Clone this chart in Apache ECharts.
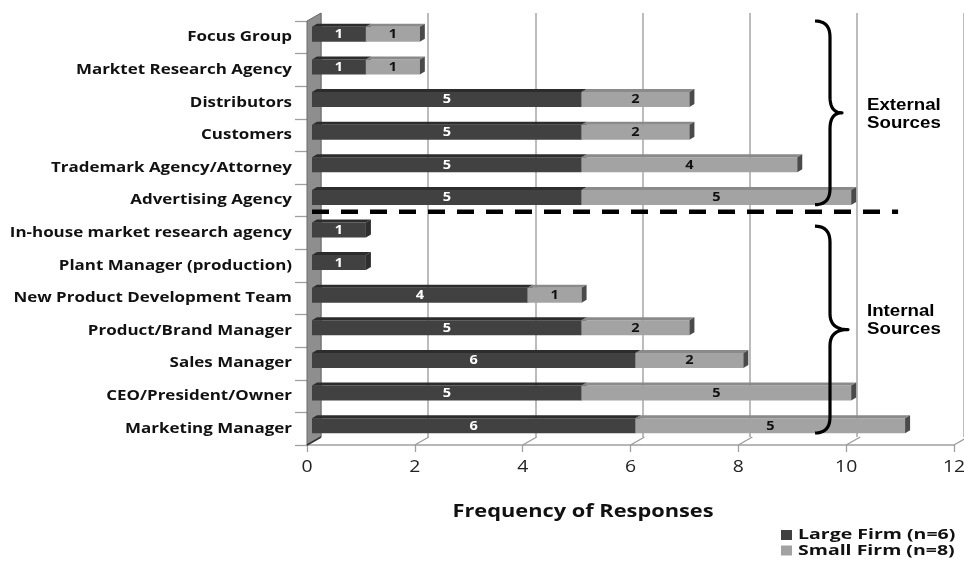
<!DOCTYPE html>
<html>
<head>
<meta charset="utf-8">
<script src="https://cdn.jsdelivr.net/npm/echarts@6/dist/echarts.min.js"></script>
<style>
  html, body { margin: 0; padding: 0; background: #fff; }
  #chart { width: 964px; height: 563px; }
</style>
</head>
<body>
<div id="chart"></div>
<script>
// Sources of information, counted per firm size
const categories = [
  'Focus Group',
  'Marktet Research Agency',
  'Distributors',
  'Customers',
  'Trademark Agency/Attorney',
  'Advertising Agency',
  'In-house market research agency',
  'Plant Manager (production)',
  'New Product Development Team',
  'Product/Brand Manager',
  'Sales Manager',
  'CEO/President/Owner',
  'Marketing Manager'
];
const largeFirm = [1, 1, 5, 5, 5, 5, 1, 1, 4, 5, 6, 5, 6];
const smallFirm = [1, 1, 2, 2, 4, 5, 0, 0, 1, 2, 2, 5, 5];
const xTicks = [0, 2, 4, 6, 8, 10, 12];
const seriesNames = ['Large Firm (n=6)', 'Small Firm (n=8)'];
const seriesColors = ['#404040', '#a2a2a2'];
const axisTitle = 'Frequency of Responses';
const groupLabels = [['External', 'Sources'], ['Internal', 'Sources']];
// category index ranges covered by each brace
const groupRanges = [[0, 5], [6, 12]];

// pseudo-3D geometry (pixels)
const DEPTH_X = 14, DEPTH_Y = 8;      // front plane to back wall
const BAR_DX = 5, BAR_DY = -3;        // bar front plane inside the box
const BAR_H = 15, TOP_DX = 5, TOP_DY = 3;
const WIDE = 1.21;                    // horizontal stretch of the lettering

const FONT = '"Open Sans", "DejaVu Sans", sans-serif';

const chart = echarts.init(document.getElementById('chart'), null, { renderer: 'canvas' });

function bar3d(colors, textColor) {
  return function (params, api) {
    const cat = api.value(0);
    const start = api.value(1);
    const end = api.value(2);
    if (end - start <= 0) return null;
    const p0 = api.coord([start, cat]);
    const p1 = api.coord([end, cat]);
    const x0 = p0[0] + BAR_DX, x1 = p1[0] + BAR_DX;
    const yc = p0[1] + BAR_DY;
    const yt = yc - BAR_H / 2, yb = yc + BAR_H / 2;
    return {
      type: 'group',
      children: [
        { type: 'rect', shape: { x: x0, y: yt, width: x1 - x0, height: BAR_H },
          style: { fill: colors.front } },
        { type: 'polygon', shape: { points: [[x0, yt], [x1, yt], [x1 + TOP_DX, yt - TOP_DY], [x0 + TOP_DX, yt - TOP_DY]] },
          style: { fill: colors.top } },
        { type: 'polygon', shape: { points: [[x1, yt], [x1 + TOP_DX, yt - TOP_DY], [x1 + TOP_DX, yb - TOP_DY], [x1, yb]] },
          style: { fill: colors.side } },
        { type: 'text', x: (x0 + x1) / 2, y: yc + 0.5, scaleX: WIDE,
          style: { text: String(end - start), x: 0, y: 0,
            align: 'center', verticalAlign: 'middle', fill: textColor,
            font: 'bold 12px ' + FONT } }
      ]
    };
  };
}

// floor ticks running back to the wall, tick labels, plus the left side wall
function frame(params, api) {
  const v = api.value(0);
  const cs = params.coordSys;
  const bottom = cs.y + cs.height;
  const x = api.coord([v, 0])[0];
  const children = [
    { type: 'line', shape: { x1: x, y1: bottom, x2: x + DEPTH_X, y2: bottom - DEPTH_Y },
      style: { stroke: '#9a9a9a', lineWidth: 1.3 } },
    { type: 'text', x: x, y: bottom + 22, scaleX: WIDE,
      style: { text: String(v), x: 0, y: 0, align: 'center', verticalAlign: 'middle',
        font: '16px ' + FONT, fill: '#222' } }
  ];
  if (params.dataIndex === 0) {
    children.unshift({
      type: 'polygon',
      shape: { points: [[cs.x, cs.y], [cs.x + DEPTH_X, cs.y - DEPTH_Y],
                        [cs.x + DEPTH_X, bottom - DEPTH_Y], [cs.x, bottom]] },
      style: { fill: '#8e8e8e', stroke: '#6a6a6a', lineWidth: 1 }
    });
    children.push({ type: 'line', shape: { x1: cs.x, y1: bottom, x2: cs.x + DEPTH_X, y2: bottom - DEPTH_Y },
      style: { stroke: '#333', lineWidth: 1.5 } });
  }
  return { type: 'group', children };
}

// category names left of the wall
function catLabel(params, api) {
  const i = api.value(0);
  const p = api.coord([0, i]);
  return {
    type: 'text', x: p[0] - 15, y: p[1], scaleX: WIDE,
    style: { text: categories[i], x: 0, y: 0, align: 'right', verticalAlign: 'middle',
      font: 'bold 14px ' + FONT, fill: '#111' }
  };
}

const gridFront = { left: 307, width: 647, top: 21, height: 424 };
const gridBack = { left: 307 + DEPTH_X, width: 647, top: 21 - DEPTH_Y, height: 424 };

const option = {
  backgroundColor: '#ffffff',
  animation: false,
  grid: [gridFront, gridBack],
  xAxis: [
    {
      gridIndex: 0, type: 'value', min: 0, max: 12, interval: 2,
      axisLine: { show: true, lineStyle: { color: '#a0a0a0', width: 1.5 } },
      axisTick: { show: true, length: 7, lineStyle: { color: '#a0a0a0', width: 1.3 } },
      axisLabel: { show: false },
      splitLine: { show: false }
    },
    {
      gridIndex: 1, type: 'value', min: 0, max: 12, interval: 2,
      axisLine: { show: false }, axisTick: { show: false }, axisLabel: { show: false },
      splitLine: { show: true, lineStyle: { color: '#a6a6a6', width: 1.5 } }
    }
  ],
  yAxis: [
    {
      gridIndex: 0, type: 'category', data: categories, inverse: true,
      axisLine: { show: false },
      axisTick: { show: true, length: 12, lineStyle: { color: '#a0a0a0', width: 1.3 } },
      axisLabel: { show: false },
      splitLine: { show: false }
    },
    {
      gridIndex: 1, type: 'category', data: categories, inverse: true, show: false
    }
  ],
  series: [
    {
      type: 'custom', name: 'frame', xAxisIndex: 0, yAxisIndex: 0, z: 2,
      renderItem: frame,
      data: xTicks.map(v => [v]),
      encode: { x: 0 },
      silent: true
    },
    {
      type: 'custom', name: 'categories', xAxisIndex: 0, yAxisIndex: 0, z: 2,
      renderItem: catLabel,
      data: categories.map((c, i) => [i]),
      encode: { y: 0 },
      silent: true
    },
    {
      type: 'custom', name: seriesNames[0], xAxisIndex: 0, yAxisIndex: 0, z: 3,
      itemStyle: { color: seriesColors[0] },
      renderItem: bar3d({ front: '#414141', top: '#2c2c2c', side: '#2e2e2e' }, '#ffffff'),
      data: categories.map((c, i) => [i, 0, largeFirm[i]]),
      encode: { y: 0, x: [1, 2] }
    },
    {
      type: 'custom', name: seriesNames[1], xAxisIndex: 0, yAxisIndex: 0, z: 4,
      itemStyle: { color: seriesColors[1] },
      renderItem: bar3d({ front: '#a3a3a3', top: '#8a8a8a', side: '#4a4a4a' }, '#111111'),
      data: categories.map((c, i) => [i, largeFirm[i], largeFirm[i] + smallFirm[i]]),
      encode: { y: 0, x: [1, 2] }
    }
  ]
};

chart.setOption(option);

// Annotations: dashed separator, curly braces, axis title and key
function px(v, cat) {
  return chart.convertToPixel({ xAxisIndex: 0, yAxisIndex: 0 }, [v, cat]);
}
const band = px(0, 1)[1] - px(0, 0)[1];
const sepY = (px(0, 5)[1] + px(0, 6)[1]) / 2 - 5;
const graphics = [
  {
    type: 'line', z: 10,
    shape: { x1: px(0, 0)[0] + BAR_DX, y1: sepY, x2: px(11, 0)[0] - 2, y2: sepY },
    style: { stroke: '#000', lineWidth: 4.5, lineDash: [17, 12] }
  }
];

function quad(pts, a, c, b) {
  for (let k = 1; k <= 10; k++) {
    const t = k / 10, u = 1 - t;
    pts.push([u * u * a[0] + 2 * u * t * c[0] + t * t * b[0],
              u * u * a[1] + 2 * u * t * c[1] + t * t * b[1]]);
  }
}
function bracePoints(x0, y0, y1, bodyDx, tipDx) {
  const xb = x0 + bodyDx, xt = x0 + tipDx, ym = (y0 + y1) / 2, r = 16;
  const pts = [[x0, y0]];
  quad(pts, [x0, y0], [xb, y0], [xb, y0 + r]);
  pts.push([xb, ym - r]);
  quad(pts, [xb, ym - r], [xb, ym], [xt, ym]);
  quad(pts, [xt, ym], [xb, ym], [xb, ym + r]);
  pts.push([xb, y1 - r]);
  quad(pts, [xb, y1 - r], [xb, y1], [x0, y1]);
  return pts;
}

const braceTrim = [[0, -12], [9.5, -12]];
const braceText = [1.5, -9];
groupRanges.forEach((rg, k) => {
  const yTop = px(0, rg[0])[1] - band / 2 + braceTrim[k][0];
  const yBot = px(0, rg[1])[1] + band / 2 + braceTrim[k][1];
  const x0 = 815;
  graphics.push({
    type: 'polyline', z: 11,
    shape: { points: bracePoints(x0, yTop, yBot, 15, k === 0 ? 27 : 33) },
    style: { fill: null, stroke: '#000', lineWidth: 3.2, lineJoin: 'round' }
  });
  const ym = (yTop + yBot) / 2;
  graphics.push({
    type: 'text', z: 11, x: 867, y: ym + braceText[k], scaleX: 1.1,
    style: {
      text: groupLabels[k].join('\n'), x: 0, y: 0,
      align: 'left', verticalAlign: 'middle',
      font: 'bold 17px "Liberation Sans", Arial, sans-serif',
      lineHeight: 18, fill: '#000'
    }
  });
});

// axis title
graphics.push({
  type: 'text', z: 11, x: 583, y: 512, scaleX: WIDE,
  style: { text: axisTitle, x: 0, y: 0, align: 'center', verticalAlign: 'middle',
    font: 'bold 18px ' + FONT, fill: '#111' }
});

// key
seriesNames.forEach((name, k) => {
  const y = 535 + k * 15.5;
  graphics.push({
    type: 'rect', z: 11, shape: { x: 781, y: y - 5, width: 11, height: 10 },
    style: { fill: seriesColors[k] }
  });
  graphics.push({
    type: 'text', z: 11, x: 798, y: y, scaleX: 1.3,
    style: { text: name, x: 0, y: 0, align: 'left', verticalAlign: 'middle',
      font: 'bold 15px ' + FONT, fill: '#111' }
  });
});

chart.setOption({ graphic: graphics });
</script>
</body>
</html>
